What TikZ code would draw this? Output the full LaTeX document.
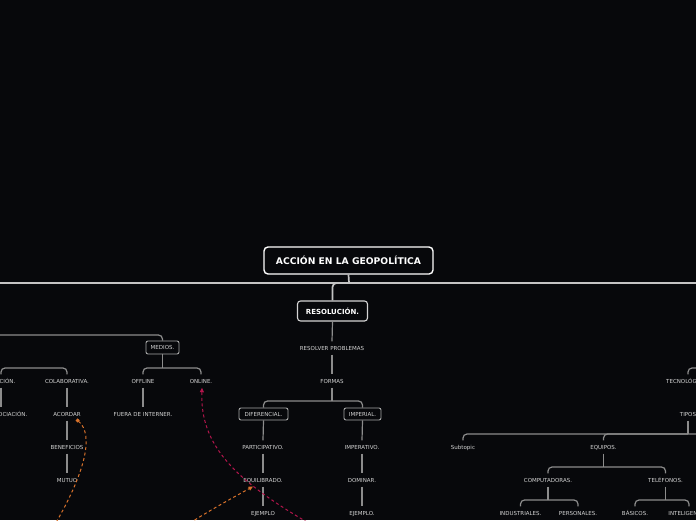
\documentclass[tikz,border=0pt]{standalone}
\usepackage{fontspec}
\setmainfont{DejaVu Sans}
\usetikzlibrary{arrows.meta,calc}
\definecolor{bg}{HTML}{07080B}
\definecolor{txt}{HTML}{D4D4D4}
\definecolor{mainc}{HTML}{C4C4C4}
\definecolor{subc}{HTML}{8C8C8C}
\definecolor{boxc}{HTML}{A8A8A8}
\definecolor{orc}{HTML}{D9722B}
\definecolor{crc}{HTML}{B3164C}
\begin{document}
\begin{tikzpicture}[x=1pt,y=-1pt,
  lbl/.style={text=txt,font=\fontsize{5.5}{6}\selectfont,inner xsep=0pt,inner ysep=0pt,
    text height=4.8pt,text depth=0pt,minimum height=13pt},
  boxn/.style={draw=boxc,fill=bg,text=txt,font=\fontsize{5.5}{6}\selectfont,line width=0.9pt,
    rounded corners=2pt,inner xsep=0pt,inner ysep=0pt,text height=4.8pt,text depth=0pt},
  mainline/.style={draw=mainc,line width=1.7pt},
  subline/.style={draw=subc,line width=1.2pt,rounded corners=4pt},
  odash/.style={draw=orc,line width=1pt,dash pattern=on 3pt off 2.6pt},
  cdash/.style={draw=crc,line width=1pt,dash pattern=on 3pt off 2.6pt}]
\useasboundingbox[fill=bg] (0,0) rectangle (696,520);

% main nodes
\node[draw=white,line width=1.4pt,rounded corners=4pt,fill=bg,text=white,
  font=\bfseries\fontsize{9.2}{10}\selectfont,minimum width=169pt,minimum height=27pt,inner sep=0pt]
  (title) at (348.5,260.5) {ACCIÓN EN LA GEOPOLÍTICA};
\node[draw=txt,line width=1.1pt,rounded corners=3pt,fill=bg,text=white,
  font=\bfseries\fontsize{7}{8}\selectfont,minimum width=70pt,minimum height=20pt,inner sep=0pt]
  (res) at (332.5,311) {RESOLUCIÓN.};

\node[lbl] (resolver) at (332,348) {RESOLVER PROBLEMAS};
\node[lbl] (formas) at (332,381) {FORMAS};
\node[boxn,minimum width=49pt,minimum height=12pt] (dif) at (263.5,414) {DIFERENCIAL.};
\node[boxn,minimum width=37pt,minimum height=12pt] (imp) at (362.5,414) {IMPERIAL.};
\node[lbl] (part) at (263,447) {PARTICIPATIVO.};
\node[lbl] (equi) at (263,480) {EQUILIBRADO.};
\node[lbl] (ej1) at (263,513) {EJEMPLO};
\node[lbl] (imper) at (362,447) {IMPERATIVO.};
\node[lbl] (domin) at (362,480) {DOMINAR.};
\node[lbl] (ej2) at (362,513) {EJEMPLO.};

\node[boxn,minimum width=33pt,minimum height=13pt] (medios) at (162.5,347.5) {MEDIOS.};
\node[lbl] (offline) at (143,381) {OFFLINE};
\node[lbl] (online) at (201,381) {ONLINE.};
\node[lbl] (fuera) at (143,414) {FUERA DE INTERNER.};

\node[lbl] (colab) at (67,381) {COLABORATIVA.};
\node[lbl] (acordar) at (67,414) {ACORDAR};
\node[lbl] (benef) at (67,447) {BENEFICIOS};
\node[lbl] (mutuo) at (67,480) {MUTUO};
\node[lbl,anchor=east] (left1) at (15.5,381) {COMPETICIÓN.};
\node[lbl,anchor=east] (left2) at (27.5,414) {NEGOCIACIÓN.};
\coordinate (lx) at (1,381);

\node[lbl] (tec) at (689,381) {TECNOLÓGICOS.};
\node[lbl] (tipos) at (688,414) {TIPOS};
\node[lbl] (subtopic) at (463,447) {Subtopic};
\node[lbl] (equipos) at (603.5,447) {EQUIPOS.};
\node[lbl] (comp) at (548,480) {COMPUTADORAS.};
\node[lbl] (tel) at (665.5,480) {TELÉFONOS.};
\node[lbl] (ind) at (520.5,513) {INDUSTRIALES.};
\node[lbl] (pers) at (578,513) {PERSONALES.};
\node[lbl] (bas) at (635,513) {BÁSICOS.};
\node[lbl] (intel) at (689,513) {INTELIGENTES.};

% coordinates
\coordinate (hub) at (349,283);
\coordinate (lend) at (-5,283);
\coordinate (rend) at (701,283);
\coordinate (medin) at (-5,335);
\coordinate (tecin) at (701,368);
\coordinate (b1) at (332,401);
\coordinate (b2) at (162.5,368);
\coordinate (b4) at (688,434);
\coordinate (b4r) at (701,434);
\coordinate (b5) at (603.5,467);
\coordinate (b6) at (548,500);
\coordinate (b7) at (665.5,500);
\coordinate (offA) at (54,526);
\coordinate (offB) at (185,526);
\coordinate (offC) at (312,525);

% main connectors
\draw[mainline] (title.south) -- (hub);
\draw[mainline] (lend) -- (rend);
\draw[mainline,rounded corners=4pt] (hub) -- (hub -| res.north) -- (res.north);

% tree lines
\begin{scope}[subline]
\draw (res.south) -- (resolver.north);
\draw (resolver.south) -- (formas.north);
\draw (formas.south) -- (b1);
\draw (dif.north) |- (b1) -| (imp.north);
\draw (dif.south) -- (part.north);
\draw (part.south) -- (equi.north);
\draw (equi.south) -- (ej1.north);
\draw (imp.south) -- (imper.north);
\draw (imper.south) -- (domin.north);
\draw (domin.south) -- (ej2.north);

\draw (medin) -| (medios.north);
\draw (medios.south) -- (b2);
\draw (offline.north) |- (b2) -| (online.north);
\draw (offline.south) -- (fuera.north);

\draw (lx |- left1.north) |- (colab.north |- b2) -- (colab.north);
\draw (lx |- left1.south) -- (lx |- left2.north);
\draw (colab.south) -- (acordar.north);
\draw (acordar.south) -- (benef.north);
\draw (benef.south) -- (mutuo.north);

\draw (tecin) -| (tec.north -| tipos.north);
\draw (tipos.south) -- (b4);
\draw (subtopic.north) |- (b4r);
\draw (equipos.north) |- (b4);
\draw (equipos.south) -- (b5);
\draw (comp.north) |- (b5) -| (tel.north);
\draw (comp.south) -- (b6);
\draw (ind.north) |- (b6) -| (pers.north);
\draw (tel.south) -- (b7);
\draw (bas.north) |- (b7) -| (intel.north);
\end{scope}

% relationship connectors
\draw[odash,{Square[length=3pt,width=3pt]}-] ($(acordar.center)+(9.5,5.5)$)
  .. controls (95,435) and (84,475) .. (offA);
\draw[odash,-{Triangle[length=4.5pt,width=4pt]}] (offB)
  .. controls (212,509) and (234,497) .. ($(equi.center)+(-10,6.5)$);
\draw[cdash,-{Triangle[length=4.5pt,width=4pt]}] (offC)
  .. controls (234,480) and (200,445) .. ($(online.south)+(1,0)$);
\end{tikzpicture}
\end{document}
